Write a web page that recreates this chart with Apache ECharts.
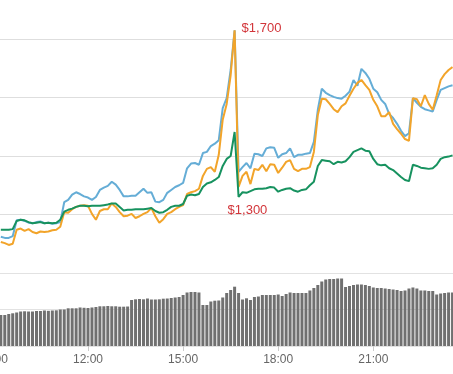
<!DOCTYPE html>
<html>
<head>
<meta charset="utf-8">
<script src="https://cdn.jsdelivr.net/npm/echarts@6/dist/echarts.min.js"></script>
<style>
html,body{margin:0;padding:0;background:#fff;}
#chart{width:453px;height:374px;}
</style>
</head>
<body>
<div id="chart"></div>
<script>
// Sampling: minutes since midnight, first sample 09:15, one sample every 7.5 minutes
const START_MIN = 555;
const STEP_MIN = 7.5;

const blueSeries = [
1062,1060,1060,1063,1090,1091,1089,1086,1085,1087,1088,1085,1086,1084,1085,1087,
1121,1125,1134,1138,1135,1131,1129,1125,1130,1142,1146,1149,1156,1151,1142,1131,
1131,1132,1132,1138,1144,1137,1138,1122,1121,1125,1137,1142,1147,1150,1154,1179,
1187,1188,1185,1205,1207,1217,1221,1227,1282,1299,1347,1415,1173,1181,1188,1179,
1204,1203,1200,1213,1215,1214,1197,1203,1205,1213,1198,1202,1202,1204,1205,1224,
1279,1315,1308,1304,1301,1299,1298,1303,1310,1330,1320,1349,1342,1332,1315,1309,
1296,1289,1272,1265,1255,1243,1234,1239,1299,1291,1284,1280,1278,1276,1296,1313,
1316,1319,1321];

const orangeSeries = [
1053,1051,1048,1050,1074,1076,1072,1075,1070,1068,1071,1070,1071,1073,1074,1079,
1104,1103,1109,1113,1115,1116,1115,1101,1091,1106,1109,1109,1119,1113,1104,1097,
1098,1101,1094,1097,1101,1104,1111,1097,1086,1092,1101,1104,1109,1113,1116,1135,
1138,1140,1144,1166,1178,1181,1173,1202,1262,1289,1338,1415,1147,1166,1173,1152,
1178,1176,1185,1174,1186,1185,1171,1180,1190,1193,1178,1174,1178,1178,1181,1207,
1270,1298,1297,1289,1280,1275,1285,1290,1303,1315,1325,1330,1321,1313,1296,1285,
1268,1268,1275,1255,1246,1238,1229,1226,1299,1297,1285,1304,1289,1279,1304,1330,
1340,1347,1352];

const greenSeries = [
1074,1074,1074,1075,1089,1091,1090,1087,1085,1086,1087,1085,1086,1085,1086,1091,
1105,1108,1110,1113,1115,1115,1114,1115,1115,1115,1116,1117,1119,1119,1113,1107,
1108,1108,1109,1109,1109,1110,1111,1106,1103,1104,1108,1113,1115,1115,1118,1132,
1134,1133,1135,1147,1153,1155,1159,1164,1183,1195,1200,1241,1130,1138,1137,1140,
1143,1144,1144,1145,1147,1146,1139,1142,1144,1145,1141,1139,1142,1143,1150,1156,
1183,1193,1192,1191,1186,1190,1189,1191,1198,1207,1210,1213,1209,1208,1195,1186,
1184,1185,1179,1176,1170,1164,1159,1157,1185,1183,1180,1179,1178,1179,1185,1195,
1198,1199,1201];

const volumeSeries = [
849,849,877,896,918,945,951,945,945,959,959,973,964,973,978,1000,
1000,1033,1033,1033,1055,1047,1041,1055,1068,1088,1088,1096,1088,1088,1077,1077,
1082,1260,1279,1288,1279,1301,1274,1274,1279,1296,1301,1315,1329,1342,1397,1466,
1479,1479,1466,1123,1123,1219,1241,1247,1329,1452,1534,1625,1452,1274,1307,1260,
1342,1356,1397,1397,1397,1397,1411,1370,1425,1466,1452,1452,1452,1452,1521,1589,
1671,1767,1822,1836,1836,1849,1849,1616,1644,1671,1685,1685,1671,1644,1603,1589,
1589,1575,1562,1548,1534,1507,1521,1575,1603,1575,1521,1521,1507,1507,1411,1438,
1452,1466,1466];

// Axis range (minutes) and tick labels
const X_MIN = 540, X_MAX = 1440, X_INTERVAL = 180;
const tickLabels = {540:'09:00', 720:'12:00', 900:'15:00', 1080:'18:00', 1260:'21:00', 1440:'10/12'};

// Price annotations: index into the orange series and text
const annotations = [
  {idx: 59, text: '$1,700'},
  {idx: 60, text: '$1,300'}
];

const times = blueSeries.map((_, i) => START_MIN + STEP_MIN * i);
const pair = arr => arr.map((v, i) => [times[i], v]);

const labelPositions = [[7, -2], [-11, 23.5]];

const chart = echarts.init(document.getElementById('chart'), null, {renderer: 'canvas'});
chart.setOption({
  animation: false,
  backgroundColor: '#fff',
  grid: [
    {left: -7.1, right: -15.4, top: -19.5, height: 292.5, outerBoundsMode: 'none', containLabel: false},
    {left: -7.1, right: -15.4, top: 273, height: 73, outerBoundsMode: 'none', containLabel: false}
  ],
  xAxis: [
    {gridIndex: 0, type: 'value', min: X_MIN, max: X_MAX, interval: X_INTERVAL, show: false},
    {gridIndex: 1, type: 'value', min: X_MIN, max: X_MAX, interval: X_INTERVAL,
     axisLine: {show: false},
     axisTick: {show: true, length: 5, lineStyle: {color: '#cccccc'}},
     splitLine: {show: false},
     axisLabel: {show: true, margin: 8, color: '#666', fontSize: 12, fontFamily: 'Liberation Sans, Arial, sans-serif',
       formatter: v => tickLabels[v] || ''}}
  ],
  yAxis: [
    {gridIndex: 0, type: 'value', min: 1000, max: 1500, interval: 100,
     axisLine: {show: false}, axisTick: {show: false}, axisLabel: {show: false},
     splitLine: {show: true, lineStyle: {color: '#dedede', width: 1}}},
    {gridIndex: 1, type: 'value', min: 0, max: 2000, interval: 1000,
     axisLine: {show: false}, axisTick: {show: false}, axisLabel: {show: false},
     splitLine: {show: true, lineStyle: {color: '#e2e2e2', width: 1}}}
  ],
  series: [
    {type: 'bar', xAxisIndex: 1, yAxisIndex: 1, data: pair(volumeSeries), barWidth: 3,
     itemStyle: {color: '#707070'}, silent: true},
    {type: 'line', xAxisIndex: 0, yAxisIndex: 0, data: pair(blueSeries), symbol: 'none',
     lineStyle: {color: '#65add6', width: 2}, itemStyle: {color: '#65add6'}},
    {type: 'line', xAxisIndex: 0, yAxisIndex: 0, data: pair(orangeSeries), symbol: 'none',
     lineStyle: {color: '#f2a42a', width: 2}, itemStyle: {color: '#f2a42a'},
     markPoint: {
       symbol: 'circle', symbolSize: 0, silent: true,
       data: annotations.map((a, k) => ({
         coord: [times[a.idx], orangeSeries[a.idx]],
         value: a.text,
         label: {show: true, position: labelPositions[k], align: 'left', verticalAlign: 'middle',
           formatter: a.text, color: '#d2353a', fontSize: 13, fontFamily: 'Liberation Sans, Arial, sans-serif'}
       }))
     }},
    {type: 'line', xAxisIndex: 0, yAxisIndex: 0, data: pair(greenSeries), symbol: 'none',
     lineStyle: {color: '#17925f', width: 2}, itemStyle: {color: '#17925f'}}
  ]
});
</script>
</body>
</html>
